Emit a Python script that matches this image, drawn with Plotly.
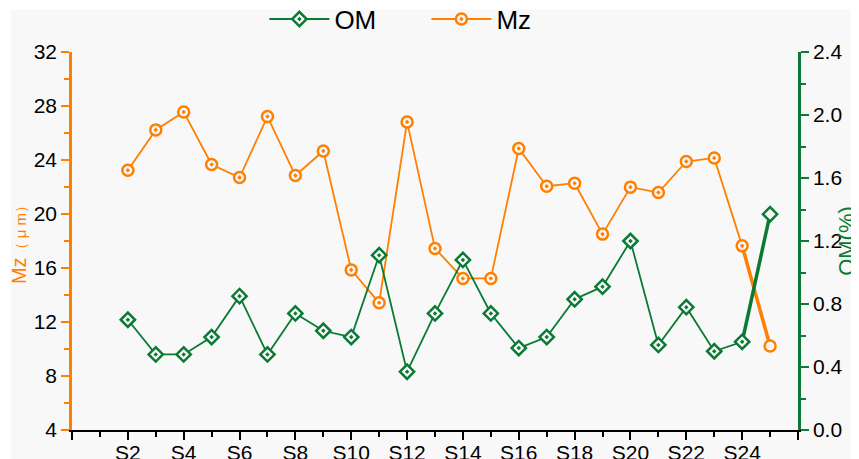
import plotly.graph_objects as go

samples = ["S2", "S3", "S4", "S5", "S6", "S7", "S8", "S9", "S10", "S11", "S12", "S13",
           "S14", "S15", "S16", "S17", "S18", "S19", "S20", "S21", "S22", "S23", "S24", "S25"]
mz = [23.24, 26.23, 27.56, 23.67, 22.70, 27.22, 22.85, 24.67, 15.86, 13.42, 26.82, 17.45,
      15.23, 15.23, 24.85, 22.06, 22.28, 18.51, 21.99, 21.59, 23.89, 24.15, 17.64, 10.22]
om = [0.70, 0.48, 0.48, 0.59, 0.85, 0.48, 0.74, 0.63, 0.59, 1.11, 0.37, 0.74,
      1.08, 0.74, 0.52, 0.59, 0.83, 0.91, 1.20, 0.54, 0.78, 0.50, 0.56, 1.37]
x_tick_labels = ["", "S2", "S4", "S6", "S8", "S10", "S12", "S14", "S16", "S18", "S20", "S22", "S24", ""]

ORANGE = "#FF7F00"
GREEN = "#0A7A34"
BG = "#F8F8F8"
FONT = "Arial, Liberation Sans, sans-serif"

xpos = [int(s[1:]) for s in samples]
n = len(samples)

fig = go.Figure()

# thick last segments
fig.add_trace(go.Scatter(x=xpos[-2:], y=mz[-2:], mode="lines", line=dict(color=ORANGE, width=3.5),
                         showlegend=False, hoverinfo="skip"))
fig.add_trace(go.Scatter(x=xpos[-2:], y=om[-2:], mode="lines", line=dict(color=GREEN, width=3.5),
                         showlegend=False, hoverinfo="skip", yaxis="y2"))

fig.add_trace(go.Scatter(
    x=xpos, y=om, name="OM", mode="lines+markers", yaxis="y2",
    text=samples,
    line=dict(color=GREEN, width=1.8),
    marker=dict(symbol=["diamond-dot"] * (n - 1) + ["diamond"], size=11,
                color=BG, line=dict(color=GREEN, width=2.5)),
))
fig.add_trace(go.Scatter(
    x=xpos, y=mz, name="Mz", mode="lines+markers",
    text=samples,
    line=dict(color=ORANGE, width=1.8),
    marker=dict(symbol=["circle-dot"] * (n - 1) + ["circle"], size=11,
                color=BG, line=dict(color=ORANGE, width=2.5)),
))

fig.update_layout(
    width=851, height=451,
    margin=dict(l=64, r=61, t=44, b=29, autoexpand=False),
    paper_bgcolor="white",
    plot_bgcolor="rgba(0,0,0,0)",
    font=dict(family=FONT, size=21, color="black"),
    showlegend=True,
    legend=dict(orientation="h", x=0.265, xanchor="left", y=1.087, yanchor="middle",
                font=dict(size=26, color="black"), bgcolor="rgba(0,0,0,0)",
                itemwidth=60, entrywidth=87, traceorder="normal"),
    xaxis=dict(
        range=[0, 26], showgrid=False, zeroline=False,
        tickmode="array", tickvals=list(range(0, 27, 2)), ticktext=x_tick_labels,
        ticks="outside", ticklen=8, tickwidth=2, tickcolor="black",
        showline=True, linecolor="black", linewidth=2,
        minor=dict(tickmode="array", tickvals=list(range(1, 26, 2)), ticks="outside",
                   ticklen=5, tickwidth=2, tickcolor="black"),
        tickfont=dict(size=21, color="black"),
        ticklabelstandoff=-5,
    ),
    yaxis=dict(
        range=[4, 32], showgrid=False, zeroline=False,
        tickmode="linear", tick0=4, dtick=4,
        ticks="outside", ticklen=8, tickwidth=2, tickcolor=ORANGE,
        showline=True, linecolor=ORANGE, linewidth=2.5,
        minor=dict(tick0=4, dtick=2, ticks="outside", ticklen=5, tickwidth=2, tickcolor=ORANGE),
        tickfont=dict(size=21, color="black"),
        title=dict(text="Mz<span style='font-size:15px'>（ μ m）</span>", font=dict(size=20, color=ORANGE),
                   standoff=7),
    ),
    yaxis2=dict(
        range=[0, 2.4], overlaying="y", side="right", showgrid=False, zeroline=False,
        tickmode="linear", tick0=0, dtick=0.4, tickformat=".1f",
        ticks="outside", ticklen=8, tickwidth=2, tickcolor=GREEN,
        showline=True, linecolor=GREEN, linewidth=2.5,
        minor=dict(tick0=0, dtick=0.2, ticks="outside", ticklen=5, tickwidth=2, tickcolor=GREEN),
        tickfont=dict(size=21, color="black"),
        title=dict(text="OM(%)", font=dict(size=22, color=GREEN), standoff=10),
    ),
    shapes=[dict(type="rect", xref="paper", yref="paper", x0=-0.084, x1=1.2, y0=-0.2, y1=1.113,
                 fillcolor=BG, line=dict(width=0), layer="below")],
)

fig.write_html("out.html")
